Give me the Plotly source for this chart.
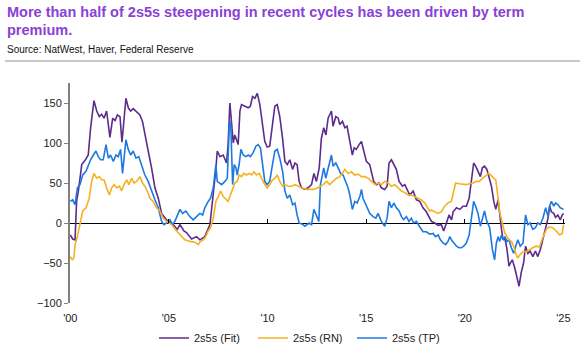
import plotly.graph_objects as go

fit_t = [2000.0, 2000.12, 2000.24, 2000.32, 2000.41, 2000.58, 2000.74, 2000.91, 2001.03, 2001.2, 2001.34, 2001.47, 2001.59, 2001.71, 2001.84, 2002.01, 2002.15, 2002.27, 2002.39, 2002.52, 2002.62, 2002.72, 2002.82, 2002.94, 2003.06, 2003.19, 2003.36, 2003.53, 2003.66, 2003.78, 2003.95, 2004.12, 2004.29, 2004.46, 2004.63, 2004.88, 2005.22, 2005.42, 2005.56, 2005.76, 2005.89, 2006.15, 2006.4, 2006.57, 2006.82, 2007.08, 2007.25, 2007.38, 2007.45, 2007.59, 2007.75, 2007.92, 2008.0, 2008.09, 2008.17, 2008.26, 2008.34, 2008.43, 2008.51, 2008.6, 2008.68, 2008.85, 2009.02, 2009.13, 2009.24, 2009.36, 2009.48, 2009.61, 2009.75, 2009.86, 2009.98, 2010.11, 2010.25, 2010.37, 2010.49, 2010.62, 2010.76, 2010.88, 2011.0, 2011.13, 2011.27, 2011.39, 2011.5, 2011.6, 2011.72, 2011.89, 2012.06, 2012.23, 2012.35, 2012.48, 2012.62, 2012.73, 2012.85, 2012.96, 2013.07, 2013.24, 2013.32, 2013.46, 2013.58, 2013.66, 2013.8, 2013.92, 2014.03, 2014.17, 2014.3, 2014.39, 2014.5, 2014.64, 2014.76, 2014.88, 2015.01, 2015.18, 2015.38, 2015.52, 2015.65, 2015.77, 2015.94, 2016.06, 2016.16, 2016.28, 2016.4, 2016.53, 2016.67, 2016.84, 2016.96, 2017.07, 2017.21, 2017.38, 2017.55, 2017.72, 2017.88, 2018.05, 2018.19, 2018.31, 2018.48, 2018.65, 2018.81, 2018.93, 2019.07, 2019.2, 2019.33, 2019.41, 2019.58, 2019.75, 2019.91, 2020.08, 2020.22, 2020.33, 2020.45, 2020.55, 2020.67, 2020.79, 2020.89, 2021.0, 2021.12, 2021.24, 2021.35, 2021.47, 2021.57, 2021.69, 2021.77, 2021.86, 2021.94, 2022.03, 2022.14, 2022.24, 2022.31, 2022.41, 2022.53, 2022.64, 2022.75, 2022.86, 2022.98, 2023.08, 2023.2, 2023.31, 2023.45, 2023.58, 2023.7, 2023.83, 2023.96, 2024.1, 2024.22, 2024.3, 2024.39, 2024.51, 2024.6, 2024.72, 2024.84, 2024.94, 2025.01]
fit_v = [-15, -20, -21, 27, 40, 73, 78, 85, 119, 153, 140, 133, 136, 131, 140, 107, 131, 128, 135, 133, 101, 127, 156, 144, 140, 143, 139, 135, 127, 110, 90, 69, 44, 31, 12, 4, -2, -8, -2, -10, -12, -20, -17, -21, -17, -2, 35, 67, 90, 83, 85, 75, 98, 150, 127, 100, 110, 102, 98, 140, 148, 146, 144, 146, 158, 156, 162, 148, 123, 102, 95, 96, 123, 146, 148, 133, 106, 77, 73, 79, 67, 75, 73, 52, 44, 42, 44, 48, 62, 52, 69, 106, 119, 110, 131, 140, 121, 133, 131, 123, 127, 119, 121, 102, 85, 94, 92, 98, 102, 90, 77, 73, 52, 48, 50, 44, 42, 46, 75, 79, 73, 67, 52, 46, 48, 42, 35, 40, 29, 27, 19, 14, 8, 2, 0, -3, -2, -10, 0, 10, 4, 14, 19, 17, 21, 21, 31, 50, 75, 71, 64, 58, 69, 71, 67, 56, 46, 27, 17, 29, 8, -8, -21, -19, -33, -54, -50, -46, -56, -67, -79, -62, -50, -29, -38, -35, -42, -35, -42, -33, -21, -6, 6, 21, 14, 12, 7, 10, 4, 10, 12]

rn_t = [2000.0, 2000.1, 2000.18, 2000.24, 2000.36, 2000.49, 2000.63, 2000.8, 2000.96, 2001.08, 2001.2, 2001.34, 2001.47, 2001.59, 2001.71, 2001.84, 2001.98, 2002.1, 2002.22, 2002.35, 2002.49, 2002.6, 2002.72, 2002.86, 2002.97, 2003.11, 2003.23, 2003.36, 2003.53, 2003.66, 2003.78, 2003.9, 2004.04, 2004.2, 2004.37, 2004.54, 2004.71, 2004.88, 2005.13, 2005.39, 2005.64, 2005.81, 2006.06, 2006.31, 2006.49, 2006.6, 2006.74, 2006.87, 2006.99, 2007.11, 2007.25, 2007.38, 2007.5, 2007.62, 2007.75, 2007.89, 2008.0, 2008.12, 2008.23, 2008.34, 2008.46, 2008.56, 2008.68, 2008.8, 2008.93, 2009.07, 2009.19, 2009.31, 2009.44, 2009.58, 2009.69, 2009.81, 2009.98, 2010.11, 2010.25, 2010.37, 2010.49, 2010.62, 2010.76, 2010.88, 2011.05, 2011.22, 2011.39, 2011.55, 2011.72, 2011.97, 2012.31, 2012.56, 2012.82, 2012.99, 2013.15, 2013.32, 2013.5, 2013.66, 2013.8, 2013.92, 2014.09, 2014.25, 2014.42, 2014.59, 2014.76, 2014.93, 2015.1, 2015.27, 2015.44, 2015.6, 2015.77, 2015.94, 2016.11, 2016.28, 2016.45, 2016.62, 2016.79, 2016.96, 2017.13, 2017.29, 2017.47, 2017.63, 2017.8, 2017.97, 2018.14, 2018.22, 2018.31, 2018.48, 2018.65, 2018.81, 2018.98, 2019.15, 2019.32, 2019.44, 2019.54, 2019.71, 2019.91, 2020.08, 2020.25, 2020.42, 2020.59, 2020.74, 2020.91, 2021.08, 2021.22, 2021.39, 2021.57, 2021.69, 2021.77, 2021.86, 2021.94, 2022.03, 2022.14, 2022.24, 2022.36, 2022.48, 2022.61, 2022.69, 2022.78, 2022.95, 2023.12, 2023.29, 2023.45, 2023.62, 2023.79, 2023.88, 2024.0, 2024.13, 2024.27, 2024.44, 2024.64, 2024.81, 2024.94, 2025.01]
rn_v = [-42, -46, -44, -27, -17, 0, 15, 19, 31, 52, 62, 56, 58, 54, 54, 44, 35, 44, 48, 44, 46, 40, 48, 54, 48, 56, 50, 52, 58, 50, 46, 40, 31, 27, 19, 15, 6, 2, -2, -10, -17, -21, -23, -24, -27, -23, -21, -17, -10, -6, 6, 27, 33, 40, 33, 29, 27, 35, 44, 50, 52, 60, 58, 62, 60, 62, 60, 64, 60, 62, 56, 50, 44, 48, 54, 56, 60, 52, 46, 48, 46, 46, 48, 46, 44, 42, 42, 44, 48, 52, 48, 52, 56, 58, 62, 67, 62, 64, 60, 61, 58, 58, 56, 52, 48, 50, 48, 52, 50, 46, 48, 44, 40, 38, 35, 35, 33, 31, 29, 25, 18, 15, 16, 14, 12, 14, 21, 25, 27, 40, 50, 49, 48, 48, 49, 50, 52, 52, 56, 60, 62, 58, 54, 31, 14, 4, -4, -13, -17, -21, -23, -29, -40, -44, -40, -36, -36, -33, -31, -29, -30, -23, -15, -8, -5, -6, -10, -15, -13, -2]

tp_t = [2000.0, 2000.12, 2000.24, 2000.36, 2000.49, 2000.63, 2000.8, 2000.91, 2001.03, 2001.17, 2001.3, 2001.42, 2001.54, 2001.67, 2001.81, 2001.93, 2002.04, 2002.18, 2002.32, 2002.43, 2002.55, 2002.65, 2002.74, 2002.82, 2002.94, 2003.06, 2003.19, 2003.33, 2003.47, 2003.62, 2003.78, 2003.95, 2004.12, 2004.29, 2004.46, 2004.63, 2004.75, 2004.88, 2005.05, 2005.19, 2005.3, 2005.42, 2005.56, 2005.69, 2005.86, 2006.06, 2006.23, 2006.4, 2006.57, 2006.71, 2006.82, 2006.99, 2007.11, 2007.25, 2007.38, 2007.45, 2007.55, 2007.67, 2007.84, 2007.96, 2008.06, 2008.13, 2008.23, 2008.31, 2008.4, 2008.46, 2008.56, 2008.65, 2008.77, 2008.9, 2009.02, 2009.13, 2009.27, 2009.41, 2009.52, 2009.64, 2009.75, 2009.86, 2009.98, 2010.11, 2010.25, 2010.37, 2010.49, 2010.62, 2010.76, 2010.88, 2011.0, 2011.13, 2011.27, 2011.39, 2011.5, 2011.6, 2011.8, 2011.89, 2012.11, 2012.23, 2012.35, 2012.48, 2012.6, 2012.68, 2012.78, 2012.85, 2012.95, 2013.12, 2013.24, 2013.32, 2013.46, 2013.58, 2013.7, 2013.83, 2013.97, 2014.08, 2014.17, 2014.3, 2014.42, 2014.54, 2014.68, 2014.76, 2014.84, 2015.01, 2015.18, 2015.35, 2015.49, 2015.6, 2015.77, 2015.94, 2016.06, 2016.16, 2016.28, 2016.4, 2016.53, 2016.67, 2016.79, 2016.9, 2017.04, 2017.17, 2017.29, 2017.41, 2017.55, 2017.72, 2017.88, 2018.05, 2018.22, 2018.39, 2018.52, 2018.65, 2018.76, 2018.9, 2019.03, 2019.15, 2019.24, 2019.32, 2019.44, 2019.58, 2019.71, 2019.83, 2019.94, 2020.08, 2020.22, 2020.33, 2020.45, 2020.55, 2020.67, 2020.79, 2020.89, 2021.0, 2021.12, 2021.26, 2021.4, 2021.51, 2021.6, 2021.69, 2021.77, 2021.86, 2021.94, 2022.03, 2022.14, 2022.24, 2022.36, 2022.48, 2022.58, 2022.69, 2022.81, 2022.95, 2023.08, 2023.2, 2023.31, 2023.45, 2023.58, 2023.7, 2023.83, 2023.96, 2024.1, 2024.22, 2024.3, 2024.39, 2024.51, 2024.6, 2024.72, 2024.84, 2025.01]
tp_v = [27, 29, 23, 44, 48, 60, 65, 73, 79, 85, 90, 83, 79, 79, 98, 81, 85, 77, 85, 83, 92, 62, 81, 104, 92, 85, 90, 81, 83, 71, 60, 52, 40, 29, 19, 2, -2, 0, 4, -2, 2, 8, 17, 12, 15, 8, 4, 8, 12, 10, 19, 27, 31, 44, 73, 52, 50, 48, 52, 56, 123, 127, 48, 73, 69, 60, 73, 92, 85, 83, 85, 83, 88, 96, 98, 94, 73, 52, 48, 52, 73, 90, 92, 81, 65, 40, 31, 35, 23, 25, 10, 0, -2, -4, 0, -2, 17, 10, 2, 48, 60, 69, 56, 73, 85, 71, 75, 69, 62, 60, 52, 44, 35, 17, 27, 25, 33, 42, 31, 21, 12, 8, 6, 12, 2, -4, 6, 27, 19, 25, 19, 15, 8, 4, 8, 2, 6, 0, 2, -5, -11, -11, -14, -13, -17, -15, -21, -25, -27, -23, -17, -21, -25, -29, -31, -31, -29, -25, -15, 8, 27, 21, 12, -4, 4, 15, 2, -6, -33, -46, -25, -17, -23, -15, -21, -17, -23, -21, -31, -38, -29, -21, -29, -25, 10, -2, 0, -8, -6, 0, -2, 6, 19, 8, 21, 27, 21, 25, 23, 19, 17]

tick_vals = [2000, 2005, 2010, 2015, 2020, 2025]
tick_text = ["'00", "'05", "'10", "'15", "'20", "'25"]
y_ticks = [-100, -50, 0, 50, 100, 150]

title_1 = "More than half of 2s5s steepening in recent cycles has been driven by term"
title_2 = "premium."
source = "Source: NatWest, Haver, Federal Reserve"

FONT = "Liberation Sans, Arial, sans-serif"
XR = [1999.985, 2025.08]
YR = [-100, 175]
H = 351.0

fig = go.Figure()
fig.add_trace(go.Scatter(x=fit_t, y=fit_v, mode="lines", name="2s5s (Fit)",
                         line=dict(color="#5C2C8C", width=1.6)))
fig.add_trace(go.Scatter(x=rn_t, y=rn_v, mode="lines", name="2s5s (RN)",
                         line=dict(color="#F5B120", width=1.6), xaxis="x2"))
fig.add_trace(go.Scatter(x=tp_t, y=tp_v, mode="lines", name="2s5s (TP)",
                         line=dict(color="#1E78E2", width=1.6)))

fig.update_layout(
    width=580, height=351,
    margin=dict(l=70, r=15, t=83, b=48, autoexpand=False),
    paper_bgcolor="white", plot_bgcolor="white",
    font=dict(family=FONT, size=11, color="#222222"),
    showlegend=True,
    legend=dict(orientation="h", xref="container", yref="container",
                x=154/580, xanchor="left", y=(H-338)/H, yanchor="middle",
                font=dict(size=11, color="#222222"), bgcolor="rgba(0,0,0,0)",
                entrywidth=54, entrywidthmode="pixels", tracegroupgap=0),
    xaxis=dict(range=XR, tickvals=tick_vals, ticktext=tick_text, showgrid=False,
               zeroline=False, showline=False, ticks="", ticklabelstandoff=7,
               tickfont=dict(size=11, color="#222222")),
    xaxis2=dict(range=XR, overlaying="x", anchor="free", position=100/275, side="bottom",
                tickvals=tick_vals, showticklabels=False, showgrid=False, zeroline=False,
                showline=False, ticks="inside", ticklen=4, tickwidth=1, tickcolor="#000000"),
    yaxis=dict(range=YR, tickvals=y_ticks, showgrid=False, zeroline=True,
               zerolinecolor="#000000", zerolinewidth=1.2, showline=True,
               linecolor="#808080", linewidth=2, ticks="outside", ticklen=4,
               tickcolor="#808080", tickwidth=1, tickfont=dict(size=11, color="#222222")),
)

for txt, py, size, color, bold in [(title_1, 12, 14.5, "#8A41D6", True),
                                    (title_2, 30, 14.5, "#8A41D6", True),
                                    (source, 49, 10, "#111111", False)]:
    fig.add_annotation(text=("<b>" + txt + "</b>") if bold else txt,
                       xref="paper", yref="paper", x=-65/495, y=(303-py)/220,
                       xanchor="left", yanchor="middle", showarrow=False,
                       font=dict(family=FONT, size=size, color=color))
fig.add_shape(type="line", xref="paper", yref="paper", x0=-65/495, x1=510/495,
              y0=(303-61)/220, y1=(303-61)/220, line=dict(color="#C8C8C8", width=2))

fig.write_html("out.html")
